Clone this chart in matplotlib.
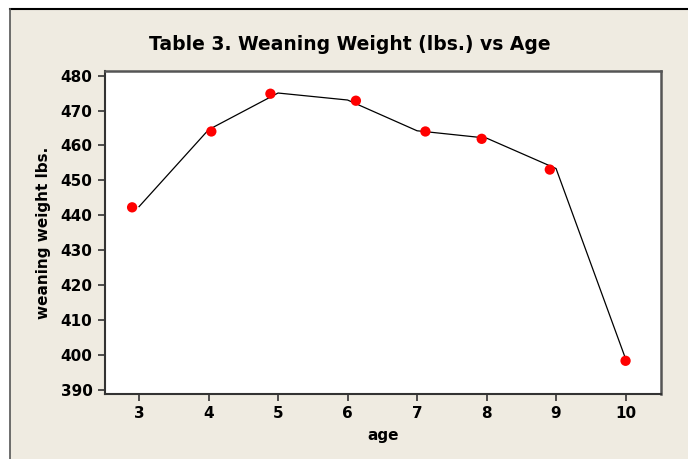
import matplotlib
matplotlib.use("Agg")
import matplotlib.pyplot as plt
from matplotlib.patches import Rectangle
from matplotlib.lines import Line2D

# data
ages = [3, 4, 5, 6, 7, 8, 9, 10]
mean_weight = [442.5, 464.5, 475.0, 473.0, 464.2, 462.1, 453.4, 399.0]
# individual points are drawn slightly jittered along the age axis
point_age = [2.90, 4.04, 4.89, 6.12, 7.12, 7.93, 8.91, 10.0]
point_weight = [442.3, 464.0, 474.8, 472.8, 464.0, 461.9, 453.1, 398.4]

xticks = [3, 4, 5, 6, 7, 8, 9, 10]
yticks = [390, 400, 410, 420, 430, 440, 450, 460, 470, 480]

BG = "#EFEBE1"
W, H = 688, 459

fig = plt.figure(figsize=(W / 100, H / 100), dpi=100, facecolor="white")

# beige panel with the thin frame at top / left
panel = Rectangle((10 / W, -0.01), 1.0, 1 - 9 / H + 0.01, transform=fig.transFigure,
                  facecolor=BG, edgecolor="none", zorder=0)
fig.add_artist(panel)
fig.add_artist(Line2D([10 / W, 1], [1 - 9 / H, 1 - 9 / H], transform=fig.transFigure,
                      color="black", lw=1.5))
fig.add_artist(Line2D([10 / W, 10 / W], [0, 1 - 9 / H], transform=fig.transFigure,
                      color="#555555", lw=1.2))

ax = fig.add_axes([105 / W, 1 - 394 / H, (661 - 105) / W, (394 - 71) / H])
ax.set_facecolor("white")

ax.plot(ages, mean_weight, color="black", lw=0.9, zorder=2)
ax.scatter(point_age, point_weight, s=55, color="#FF0000", edgecolors="none", zorder=3)

ax.set_xlim(2.51, 10.51)
ax.set_ylim(388.9, 481.3)
ax.set_xticks(xticks)
ax.set_yticks(yticks)
ax.tick_params(direction="out", length=5, width=1.2, color="#333333", labelsize=11,
               pad=4)
for lab in ax.get_xticklabels() + ax.get_yticklabels():
    lab.set_fontweight("bold")

for side in ["left", "bottom"]:
    ax.spines[side].set_color("#333333")
    ax.spines[side].set_linewidth(1.5)
for side in ["top", "right"]:
    ax.spines[side].set_color("#555555")
    ax.spines[side].set_linewidth(1.8)

ax.set_xlabel("age", fontsize=11, fontweight="bold", labelpad=5)
ax.set_ylabel("weaning weight lbs.", fontsize=11, fontweight="bold", labelpad=7)

fig.text(350 / W, 1 - 44 / H, "Table 3. Weaning Weight (lbs.) vs Age", ha="center",
         va="center", fontsize=13.5, fontweight="bold")

fig.savefig("out.png", dpi=100, facecolor=fig.get_facecolor())
